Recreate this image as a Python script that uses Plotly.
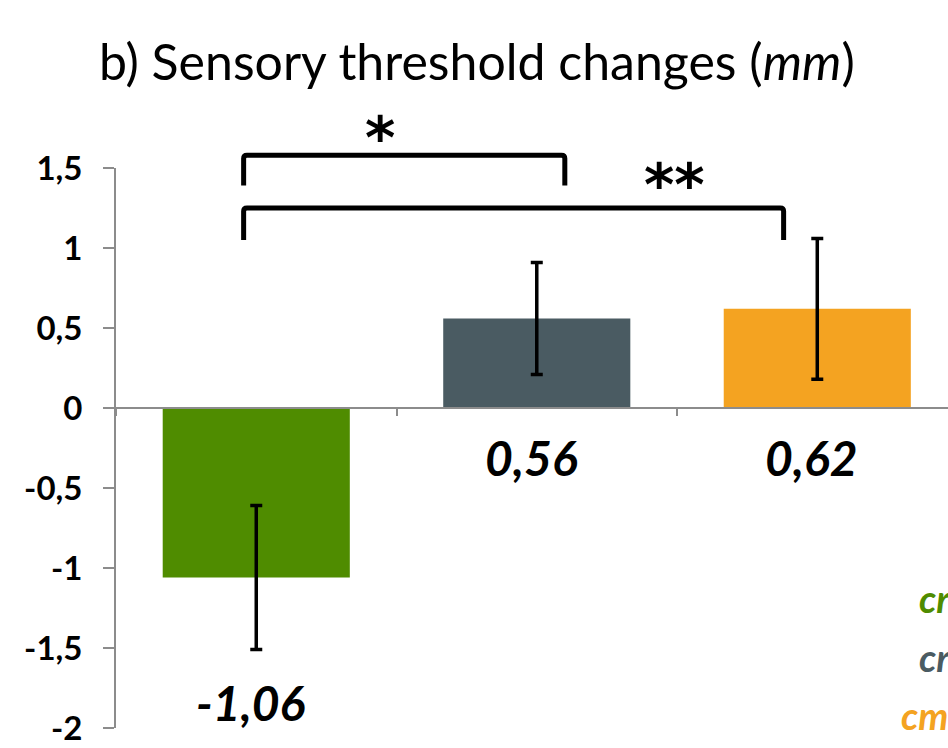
import plotly.graph_objects as go

# ---- data ----
groups = ["cr-green", "cr-gray", "cm-orange"]
values = [-1.06, 0.56, 0.62]
errors = [0.45, 0.35, 0.44]
value_labels = ["-1,06", "0,56", "0,62"]
bar_colors = ["#4f8c00", "#4a5b62", "#f4a321"]
legend_texts = ["cr", "cr", "cm"]
y_ticks = [-2, -1.5, -1, -0.5, 0, 0.5, 1, 1.5]
y_ticktext = ["-2", "-1,5", "-1", "-0,5", "0", "0,5", "1", "1,5"]
# significance brackets: (from bar, to bar, significance)
brackets_from = [0, 0]
brackets_to = [1, 2]
brackets_sig = ["*", "**"]

FONT = "Lato"
Y_MIN, Y_MAX = -2, 1.5
X_MIN, X_MAX = -0.5, 2.466
W, H = 948, 748
ML, MR, MT, MB = 116, 0, 168, 20

xs = list(range(len(values)))

fig = go.Figure()
fig.add_trace(go.Bar(
    x=xs, y=values, width=0.667,
    marker=dict(color=bar_colors, line=dict(width=0)),
    error_y=dict(type="data", array=errors, visible=True,
                 color="black", thickness=3.5, width=6),
    showlegend=False,
))

def px_(x):
    return (x - X_MIN) / (X_MAX - X_MIN)

def py_(y):
    return (y - Y_MIN) / (Y_MAX - Y_MIN)

shapes = []
annotations = []

# brackets
levels = [(1.58, 1.39), (1.25, 1.05)]
star_pos = [(0.44, 1.46), (1.49, 1.17)]
for k, (a, b) in enumerate(zip(brackets_from, brackets_to)):
    top, leg = levels[k]
    x0 = px_(xs[a] - 0.045)
    x1 = px_(xs[b] + (0.1 if k == 0 else -0.12))
    yt = py_(top)
    yl = py_(leg)
    r = 0.006
    rx = 0.004
    path = (f"M {x0},{yl} L {x0},{yt - r} Q {x0},{yt} {x0 + rx},{yt} "
            f"L {x1 - rx},{yt} Q {x1},{yt} {x1},{yt - r} L {x1},{yl}")
    shapes.append(dict(type="path", path=path, xref="paper", yref="paper",
                       line=dict(color="black", width=5)))
    sx, sy = star_pos[k]
    annotations.append(dict(x=px_(sx), y=py_(sy), xref="paper", yref="paper",
                            text=f"<b>{brackets_sig[k]}</b>", showarrow=False,
                            font=dict(family="DejaVu Sans", size=58, color="black"),
                            xanchor="center", yanchor="bottom"))

# value labels
for i, v in enumerate(values):
    ly = (v - errors[i] - 0.33) if v < 0 else -0.31
    annotations.append(dict(x=xs[i] - 0.02, y=ly, xref="x", yref="y",
                            text=f"<b><i>{value_labels[i]}</i></b>", showarrow=False,
                            font=dict(family=FONT, size=48, color="black"),
                            xanchor="center", yanchor="middle"))

# cut-off legend texts at right
leg_x = [917, 917, 899]
leg_y = [598, 657, 715]
for i, t in enumerate(legend_texts):
    annotations.append(dict(x=(leg_x[i] - ML) / (W - ML - MR),
                            y=1 - (leg_y[i] - MT) / (H - MT - MB),
                            xref="paper", yref="paper",
                            text=f"<b><i>{t}</i></b>", showarrow=False,
                            font=dict(family=FONT, size=38, color=bar_colors[i]),
                            xanchor="left", yanchor="middle"))

fig.update_layout(
    width=W, height=H,
    margin=dict(l=ML, r=MR, t=MT, b=MB, pad=0),
    paper_bgcolor="white", plot_bgcolor="white",
    title=dict(text="b) Sensory threshold changes (<i>mm</i>)",
               x=0.503, xanchor="center", xref="container",
               y=1 - 62 / H, yanchor="middle", yref="container",
               font=dict(family=FONT, size=50, color="black")),
    shapes=shapes,
    annotations=annotations,
    bargap=0.333,
)
fig.update_xaxes(
    range=[X_MIN, X_MAX], anchor="free", position=py_(0),
    showline=True, linecolor="#8c8c8c", linewidth=2,
    tickvals=[-0.5, 0.5, 1.5, 2.5], ticks="outside", ticklen=7,
    tickcolor="#8c8c8c", tickwidth=2, showticklabels=False,
    showgrid=False, zeroline=False,
)
fig.update_yaxes(
    range=[Y_MIN, Y_MAX], showline=True, linecolor="#8c8c8c", linewidth=2,
    tickvals=y_ticks, ticktext=y_ticktext, ticks="outside", ticklen=11,
    tickcolor="#8c8c8c", tickwidth=2, ticklabelstandoff=14,
    tickfont=dict(family=FONT, size=33, color="black", weight="bold"),
    showgrid=False, zeroline=False,
)

fig.write_html("out.html")
